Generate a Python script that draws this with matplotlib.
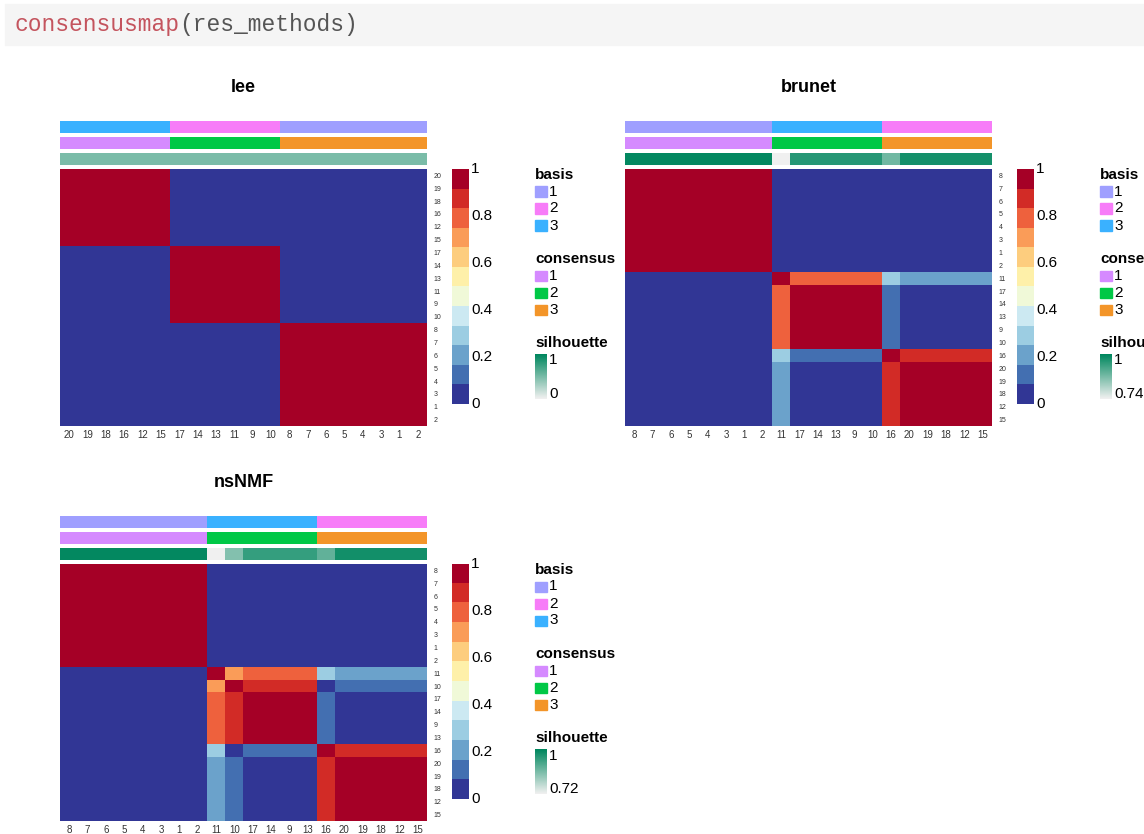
import numpy as np
import matplotlib
matplotlib.use("Agg")
import matplotlib.pyplot as plt
from matplotlib.colors import LinearSegmentedColormap, Normalize, to_rgb
from matplotlib.patches import Rectangle

plt.rcParams['font.family'] = ['Liberation Sans', 'DejaVu Sans']

W, H = 1144, 834

# colours of the annotation tracks
basis_colors = {1: '#9F9FFF', 2: '#F77CF8', 3: '#3AB1FF'}
consensus_colors = {1: '#D58AFF', 2: '#00C846', 3: '#F39529'}
sil_cmap = LinearSegmentedColormap.from_list('sil', ['#F0F0F0', '#00875E'])
heat_cmap = plt.get_cmap('RdYlBu_r', 12)

# lee
lee_groups = [[20, 19, 18, 16, 12, 15], [17, 14, 13, 11, 9, 10], [8, 7, 6, 5, 4, 3, 1, 2]]
lee_block = [[1, 0, 0],
             [0, 1, 0],
             [0, 0, 1]]
lee_basis = [3, 2, 1]
lee_consensus = [1, 2, 3]
lee_silhouette = [0.49, 0.49, 0.49]
lee_sil_range = (0, 1)

# brunet
brunet_groups = [[8, 7, 6, 5, 4, 3, 1, 2], [11], [17, 14, 13, 9, 10], [16], [20, 19, 18, 12, 15]]
brunet_block = [[1, 0,   0,   0,   0],
                [0, 1,   0.8, 0.3, 0.2],
                [0, 0.8, 1,   0.1, 0],
                [0, 0.3, 0.1, 1,   0.9],
                [0, 0.2, 0,   0.9, 1]]
brunet_basis = [1, 3, 3, 2, 2]
brunet_consensus = [1, 2, 2, 3, 3]
brunet_silhouette = [0.995, 0.74, 0.958, 0.878, 0.977]
brunet_sil_range = (0.74, 1)

# nsNMF
nsnmf_groups = [[8, 7, 6, 5, 4, 3, 1, 2], [11], [10], [17, 14, 9, 13], [16], [20, 19, 18, 12, 15]]
nsnmf_block = [[1, 0,   0,   0,   0,   0],
               [0, 1,   0.7, 0.8, 0.3, 0.2],
               [0, 0.7, 1,   0.9, 0,   0.1],
               [0, 0.8, 0.9, 1,   0.1, 0],
               [0, 0.3, 0,   0.1, 1,   0.9],
               [0, 0.2, 0.1, 0,   0.9, 1]]
nsnmf_basis = [1, 3, 3, 3, 2, 2]
nsnmf_consensus = [1, 2, 2, 2, 3, 3]
nsnmf_silhouette = [0.995, 0.72, 0.846, 0.938, 0.886, 0.978]
nsnmf_sil_range = (0.72, 1)

colorbar_ticks = [0, 0.2, 0.4, 0.6, 0.8, 1]


def box(x0, y0, x1, y1):
    return [x0 / W, 1 - y1 / H, (x1 - x0) / W, (y1 - y0) / H]


def ptext(x, y, s, **kw):
    return fig.text(x / W, 1 - y / H, s, **kw)


def track(rect, colors):
    ax = fig.add_axes(box(*rect))
    ax.imshow(np.array([colors]), aspect='auto', interpolation='nearest')
    ax.set_axis_off()


def legend_square(x, yc, col):
    fig.patches.append(Rectangle((x / W, 1 - (yc + 5) / H), 11.5 / W, 10 / H,
                                 transform=fig.transFigure, color=col))


def draw_panel(title, groups, block, basis, consensus, sil, sil_range, dx, dy):
    sizes = [len(g) for g in groups]
    idx = np.repeat(np.arange(len(groups)), sizes)
    labels = [str(s) for g in groups for s in g]
    mat = np.array(block, dtype=float)[np.ix_(idx, idx)]
    n = len(labels)

    x0, x1 = 60 + dx, 427 + dx
    ptext((x0 + x1) / 2, 88 + dy, title, ha='center', va='center',
          fontsize=13, fontweight='bold')

    # annotation tracks
    track((x0, 121 + dy, x1, 133.5 + dy), [to_rgb(basis_colors[basis[i]]) for i in idx])
    track((x0, 137 + dy, x1, 149.5 + dy), [to_rgb(consensus_colors[consensus[i]]) for i in idx])
    snorm = Normalize(*sil_range)
    track((x0, 153 + dy, x1, 165.5 + dy), [sil_cmap(snorm(sil[i]))[:3] for i in idx])

    # consensus matrix
    ax = fig.add_axes(box(x0, 169 + dy, x1, 426 + dy))
    ax.imshow(mat, cmap=heat_cmap, vmin=0, vmax=1, aspect='auto', interpolation='nearest')
    ax.set_xticks(range(n))
    ax.set_xticklabels(labels, fontsize=7, color='#333333')
    ax.set_yticks(range(n))
    ax.set_yticklabels(labels, fontsize=5, color='#333333')
    ax.yaxis.tick_right()
    ax.tick_params(axis='x', length=0, pad=3)
    ax.tick_params(axis='y', length=0, pad=5)
    for sp in ax.spines.values():
        sp.set_visible(False)

    # colour key
    cb = fig.add_axes(box(452 + dx, 169 + dy, 468.5 + dx, 404 + dy))
    levels = (np.arange(12) + 0.5) / 12
    cb.imshow(levels[::-1, None], cmap=heat_cmap, vmin=0, vmax=1, aspect='auto',
              interpolation='nearest')
    cb.set_axis_off()
    for t in colorbar_ticks:
        ptext(471 + dx, 404 + dy - t * 235, f'{t:g}', ha='left', va='center', fontsize=11)

    # legends
    lx = 535 + dx
    ptext(lx, 175 + dy, 'basis', ha='left', va='center', fontsize=11, fontweight='bold')
    for k, (lab, col) in enumerate(basis_colors.items()):
        yc = 191.5 + dy + 17 * k
        legend_square(lx, yc, col)
        ptext(lx + 14, yc, str(lab), ha='left', va='center', fontsize=11)
    ptext(lx, 259 + dy, 'consensus', ha='left', va='center', fontsize=11, fontweight='bold')
    for k, (lab, col) in enumerate(consensus_colors.items()):
        yc = 276 + dy + 17 * k
        legend_square(lx, yc, col)
        ptext(lx + 14, yc, str(lab), ha='left', va='center', fontsize=11)
    ptext(lx, 343 + dy, 'silhouette', ha='left', va='center', fontsize=11, fontweight='bold')
    gax = fig.add_axes(box(lx, 354 + dy, lx + 11.5, 399 + dy))
    gax.imshow(np.linspace(1, 0, 50)[:, None], cmap=sil_cmap, vmin=0, vmax=1,
               aspect='auto')
    gax.set_axis_off()
    ptext(lx + 14, 360.5 + dy, f'{sil_range[1]:g}', ha='left', va='center', fontsize=11)
    ptext(lx + 14, 394 + dy, f'{sil_range[0]:g}', ha='left', va='center', fontsize=11)


fig = plt.figure(figsize=(W / 100, H / 100), dpi=100)
fig.patch.set_facecolor('white')

# code cell header
fig.patches.append(Rectangle((5 / W, 1 - 45 / H), 1138 / W, 41 / H,
                             transform=fig.transFigure, color='#F5F5F5'))
t1 = ptext(14, 31, 'consensusmap', fontsize=16.5, color='#C4545E',
           family='Liberation Mono', va='baseline')
fig.text(0, 0, '(res_methods)', fontsize=16.5, color='#555555',
         family='Liberation Mono', va='baseline', ha='left')
fig.texts[-1].set_position((14 / W, 1 - 31 / H))
fig.texts[-1].set_transform(
    matplotlib.transforms.offset_copy(fig.transFigure, fig=fig,
                                      x=12 * 0.6 * 16.5, y=0, units='points'))

draw_panel('lee', lee_groups, lee_block, lee_basis, lee_consensus,
           lee_silhouette, lee_sil_range, 0, 0)
draw_panel('brunet', brunet_groups, brunet_block, brunet_basis, brunet_consensus,
           brunet_silhouette, brunet_sil_range, 565, 0)
draw_panel('nsNMF', nsnmf_groups, nsnmf_block, nsnmf_basis, nsnmf_consensus,
           nsnmf_silhouette, nsnmf_sil_range, 0, 395)

fig.savefig('out.png', dpi=100)
